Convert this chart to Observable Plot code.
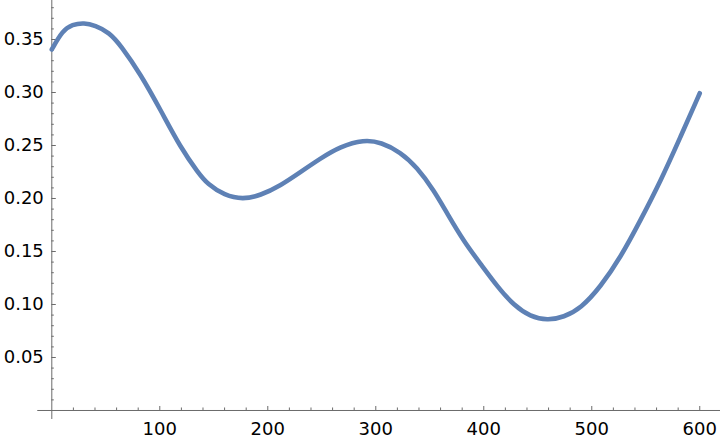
<!DOCTYPE html>
<html>
<head>
<meta charset="utf-8">
<script src="https://cdn.jsdelivr.net/npm/d3@7"></script>
<script src="https://cdn.jsdelivr.net/npm/@observablehq/plot@0.6"></script>
<style>
  html, body { margin: 0; padding: 0; background: #fff; }
  #chart svg { display: block; }
</style>
</head>
<body>
<div id="chart"></div>
<script>
const xs = [0, 10, 19, 30, 40, 53, 64, 82, 101, 119, 136, 144, 160, 177, 193, 212, 230, 249, 267, 289, 305, 323, 338, 354, 366, 382, 397, 413, 428, 443, 459, 474, 490, 508, 527, 545, 564, 582, 600];
const ys = [0.3406, 0.3585, 0.3642, 0.3658, 0.3632, 0.3569, 0.3443, 0.3176, 0.2830, 0.2484, 0.2236, 0.2139, 0.2028, 0.1991, 0.2028, 0.2123, 0.2248, 0.2380, 0.2490, 0.2555, 0.2530, 0.2437, 0.2295, 0.2075, 0.1860, 0.1588, 0.1384, 0.1163, 0.0991, 0.0887, 0.0849, 0.0880, 0.0965, 0.1165, 0.1450, 0.1792, 0.2170, 0.2578, 0.2993];

const xMajorTicks = [100, 200, 300, 400, 500, 600];
const xMinorTicks = [20, 40, 60, 80, 120, 140, 160, 180, 220, 240, 260, 280, 320, 340, 360, 380, 420, 440, 460, 480, 520, 540, 560, 580];
const yMajorTicks = [0.05, 0.10, 0.15, 0.20, 0.25, 0.30, 0.35];
const yMinorTicks = [0.01, 0.02, 0.03, 0.04, 0.06, 0.07, 0.08, 0.09, 0.11, 0.12, 0.13, 0.14, 0.16, 0.17, 0.18, 0.19, 0.21, 0.22, 0.23, 0.24, 0.26, 0.27, 0.28, 0.29, 0.31, 0.32, 0.33, 0.34, 0.36, 0.37, 0.38];
const yTickLabels = ["0.05", "0.10", "0.15", "0.20", "0.25", "0.30", "0.35"];

const data = xs.map((x, i) => ({x, y: ys[i]}));

const W = 720, H = 442;
const xDomain = [-47.5, 619.2];
const yDomain = [-0.0302, 0.3868];
const pxPerX = W / (xDomain[1] - xDomain[0]);
const pxPerY = H / (yDomain[1] - yDomain[0]);
const axisColor = "#6b6b6b";

const chart = Plot.plot({
  width: W,
  height: H,
  margin: 0,
  x: {domain: xDomain, axis: null},
  y: {domain: yDomain, axis: null},
  style: {fontFamily: "DejaVu Sans", fontSize: "18px", background: "#fff"},
  marks: [
    // axes
    Plot.ruleY([0], {x1: -13, x2: xDomain[1], stroke: axisColor, strokeWidth: 1}),
    Plot.ruleX([0], {y1: -9 / pxPerY, y2: yDomain[1], stroke: axisColor, strokeWidth: 1}),
    // x ticks
    Plot.ruleX(xMajorTicks, {y1: 0, y2: 4 / pxPerY, stroke: axisColor}),
    Plot.ruleX(xMinorTicks, {y1: 0, y2: 2.5 / pxPerY, stroke: axisColor}),
    // y ticks
    Plot.ruleY(yMajorTicks, {x1: 0, x2: 4.5 / pxPerX, stroke: axisColor}),
    Plot.ruleY(yMinorTicks, {x1: 0, x2: 2.5 / pxPerX, stroke: axisColor}),
    // tick labels
    Plot.text(xMajorTicks, {x: d => d, y: 0, text: d => String(d), dy: 19, lineAnchor: "middle", textAnchor: "middle", fill: "#000", fontSize: 18}),
    Plot.text(yMajorTicks, {x: 0, y: d => d, text: (d, i) => yTickLabels[i], dx: -8, lineAnchor: "middle", textAnchor: "end", fill: "#000", fontSize: 18}),
    // curve
    Plot.line(data, {x: "x", y: "y", stroke: "#5E81B5", strokeWidth: 4.6, curve: "basis", strokeLinecap: "round", strokeLinejoin: "round"})
  ]
});

document.getElementById("chart").appendChild(chart);
</script>
</body>
</html>
